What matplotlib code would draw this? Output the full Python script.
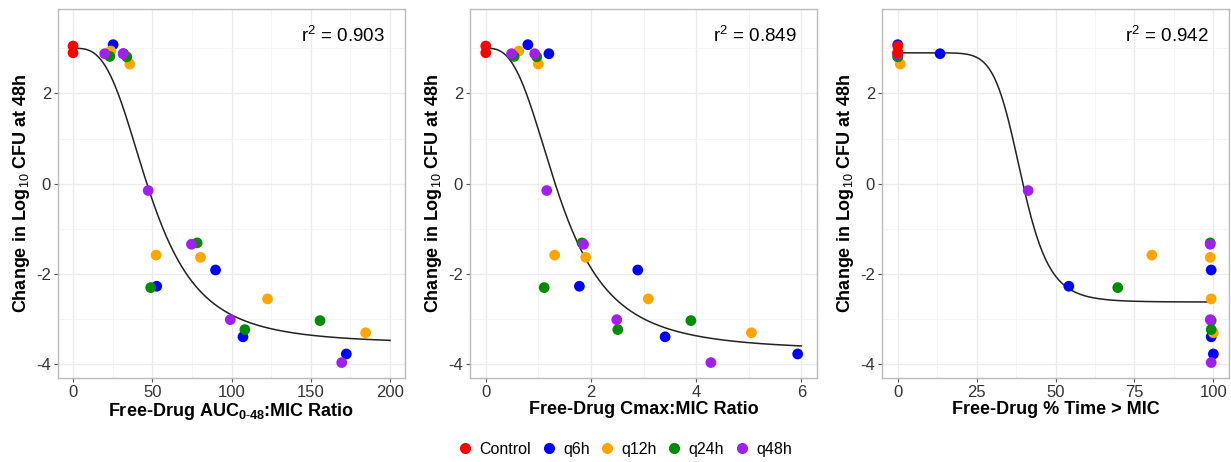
import numpy as np
import matplotlib
matplotlib.use("Agg")
import matplotlib.pyplot as plt
from matplotlib.lines import Line2D

plt.rcParams['font.family'] = ['Liberation Sans', 'DejaVu Sans']
plt.rcParams['mathtext.fontset'] = 'custom'
plt.rcParams['mathtext.rm'] = 'Liberation Sans'
plt.rcParams['mathtext.bf'] = 'Liberation Sans:bold'
plt.rcParams['mathtext.it'] = 'Liberation Sans:italic'
plt.rcParams['axes.unicode_minus'] = False

groups = ["Control", "q6h", "q12h", "q24h", "q48h"]
colors = {"Control": "#FF0000", "q6h": "#0000FF", "q12h": "#FFA500",
          "q24h": "#008B00", "q48h": "#A020F0"}

# change in log10 CFU at 48h for each regimen
change = {
    "Control": [3.05, 2.90],
    "q6h": [3.08, 2.88, -1.91, -2.27, -3.39, -3.77],
    "q12h": [2.94, 2.65, -1.58, -1.63, -2.55, -3.30],
    "q24h": [2.82, 2.81, -1.31, -2.30, -3.03, -3.23],
    "q48h": [2.88, 2.88, -0.15, -1.34, -3.01, -3.96],
}
# free-drug AUC0-48:MIC ratio
auc_mic = {
    "Control": [0, 0],
    "q6h": [25.3, 31.8, 89.9, 52.8, 107.2, 172.4],
    "q12h": [23.8, 35.8, 52.4, 80.4, 122.7, 184.6],
    "q24h": [23.2, 33.9, 78.3, 49.0, 155.8, 108.4],
    "q48h": [20.0, 31.6, 47.4, 74.7, 99.2, 169.5],
}
# free-drug Cmax:MIC ratio
cmax_mic = {
    "Control": [0, 0],
    "q6h": [0.80, 1.20, 2.89, 1.78, 3.41, 5.93],
    "q12h": [0.63, 1.00, 1.31, 1.90, 3.09, 5.05],
    "q24h": [0.54, 0.97, 1.83, 1.11, 3.90, 2.51],
    "q48h": [0.49, 0.93, 1.16, 1.86, 2.49, 4.28],
}
# free-drug % time > MIC
time_mic = {
    "Control": [0, 0],
    "q6h": [0, 13.4, 99.3, 54.2, 99.3, 100.0],
    "q12h": [0, 0.8, 80.5, 99.0, 99.3, 100.0],
    "q24h": [0, 0, 99.0, 69.7, 99.3, 99.3],
    "q48h": [0, 0, 41.3, 99.0, 99.0, 99.3],
}

# sigmoid Emax fits: (E0, Emin, EC50, Hill)
fit_auc = (3.00, -3.55, 49.2, 3.12)
fit_cmax = (3.00, -3.70, 1.42, 2.85)
fit_time = (2.90, -2.62, 39.2, 8.85)

r2 = ["0.903", "0.849", "0.942"]
xlabels = [r"Free-Drug AUC$_{\mathbf{0\text{-}48}}$:MIC Ratio",
           "Free-Drug Cmax:MIC Ratio",
           "Free-Drug % Time > MIC"]

panels = [
    (auc_mic, fit_auc, (-9.5, 209.5), [0, 50, 100, 150, 200], [25, 75, 125, 175], 200),
    (cmax_mic, fit_cmax, (-0.3, 6.3), [0, 2, 4, 6], [1, 3, 5], 6),
    (time_mic, fit_time, (-5, 105), [0, 25, 50, 75, 100], [12.5, 37.5, 62.5, 87.5], 100),
]

fig = plt.figure(figsize=(12.31, 4.62), dpi=100)
lefts = [0.0471, 0.3818, 0.7165]
width = 0.282

for i, (xd, fit, xlim, xt, xmt, xmax) in enumerate(panels):
    ax = fig.add_axes([lefts[i], 0.182, width, 0.7985])
    ax.set_xlim(*xlim)
    ax.set_ylim(-4.3, 3.87)
    ax.set_xticks(xt)
    ax.set_xticks(xmt, minor=True)
    ax.set_yticks([-4, -2, 0, 2])
    ax.set_yticks([-3, -1, 1, 3], minor=True)
    ax.grid(which='major', color='#EBEBEB', linewidth=1.0)
    ax.grid(which='minor', color='#F2F2F2', linewidth=0.6)
    ax.set_axisbelow(True)
    for s in ax.spines.values():
        s.set_color('#BBBBBB')
        s.set_linewidth(1.0)
    ax.tick_params(which='major', length=3, color='#555555', labelsize=12,
                   labelcolor='#333333', pad=2)
    ax.tick_params(which='minor', length=0)

    e0, emin, ec50, h = fit
    xs = np.linspace(0, xmax, 400)
    ys = e0 - (e0 - emin) * xs**h / (ec50**h + xs**h)
    ax.plot(xs, ys, color='#222222', linewidth=1.1, zorder=2)

    for g in groups[1:] + groups[:1]:
        ax.scatter(xd[g], change[g], s=60, color=colors[g], edgecolors='none', zorder=3)

    ax.text(0.94, 0.955, r"r$^2$ = " + r2[i], transform=ax.transAxes,
            ha='right', va='top', fontsize=13.5)
    ax.set_xlabel(xlabels[i], fontsize=13, fontweight='bold', labelpad=1)
    ax.set_ylabel(r"Change in Log$_{10}$ CFU at 48h", fontsize=13,
                  fontweight='bold', labelpad=3)

handles = [Line2D([], [], marker='o', linestyle='', color=colors[g], markersize=7)
           for g in groups]
fig.legend(handles, groups, loc='center', bbox_to_anchor=(0.508, 0.028), ncol=5,
           frameon=False, fontsize=11.5, handlelength=0.8, handletextpad=0.5,
           columnspacing=0.7)

fig.savefig("out.png", dpi=100)
